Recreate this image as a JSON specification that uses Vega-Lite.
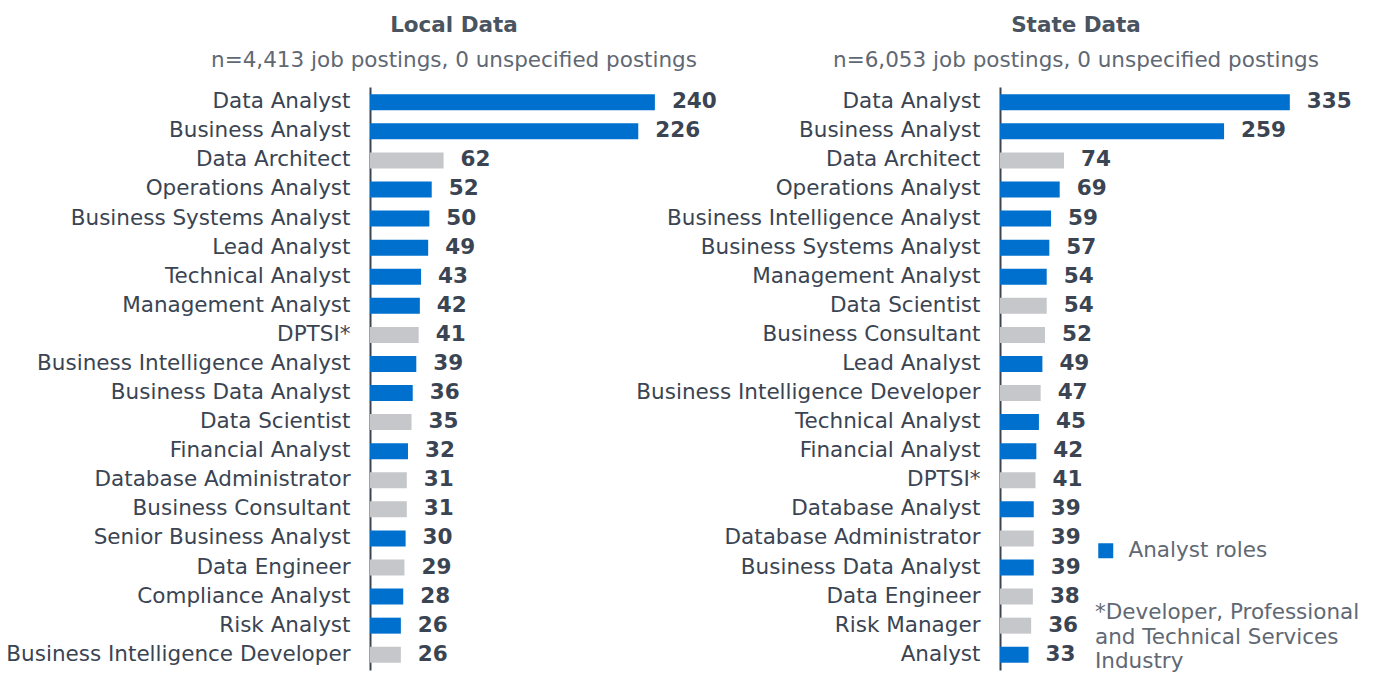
{
  "$schema": "https://vega.github.io/schema/vega-lite/v6.json",
  "background": "white",
  "padding": {"left": 5, "top": 15, "right": 5, "bottom": 5},
  "bounds": "flush",
  "spacing": 300,
  "resolve": {"scale": {"color": "independent"}, "legend": {"color": "independent"}},
  "config": {
    "font": "DejaVu Sans",
    "view": {"stroke": null},
    "axis": {"labelFont": "DejaVu Sans"}
  },
  "datasets": {
    "local": [
      {"role": "Data Analyst", "count": 240, "type": "Analyst roles", "rank": 1},
      {"role": "Business Analyst", "count": 226, "type": "Analyst roles", "rank": 2},
      {"role": "Data Architect", "count": 62, "type": "Other", "rank": 3},
      {"role": "Operations Analyst", "count": 52, "type": "Analyst roles", "rank": 4},
      {"role": "Business Systems Analyst", "count": 50, "type": "Analyst roles", "rank": 5},
      {"role": "Lead Analyst", "count": 49, "type": "Analyst roles", "rank": 6},
      {"role": "Technical Analyst", "count": 43, "type": "Analyst roles", "rank": 7},
      {"role": "Management Analyst", "count": 42, "type": "Analyst roles", "rank": 8},
      {"role": "DPTSI*", "count": 41, "type": "Other", "rank": 9},
      {"role": "Business Intelligence Analyst", "count": 39, "type": "Analyst roles", "rank": 10},
      {"role": "Business Data Analyst", "count": 36, "type": "Analyst roles", "rank": 11},
      {"role": "Data Scientist", "count": 35, "type": "Other", "rank": 12},
      {"role": "Financial Analyst", "count": 32, "type": "Analyst roles", "rank": 13},
      {"role": "Database Administrator", "count": 31, "type": "Other", "rank": 14},
      {"role": "Business Consultant", "count": 31, "type": "Other", "rank": 15},
      {"role": "Senior Business Analyst", "count": 30, "type": "Analyst roles", "rank": 16},
      {"role": "Data Engineer", "count": 29, "type": "Other", "rank": 17},
      {"role": "Compliance Analyst", "count": 28, "type": "Analyst roles", "rank": 18},
      {"role": "Risk Analyst", "count": 26, "type": "Analyst roles", "rank": 19},
      {"role": "Business Intelligence Developer", "count": 26, "type": "Other", "rank": 20}
    ],
    "state": [
      {"role": "Data Analyst", "count": 335, "type": "Analyst roles", "rank": 1},
      {"role": "Business Analyst", "count": 259, "type": "Analyst roles", "rank": 2},
      {"role": "Data Architect", "count": 74, "type": "Other", "rank": 3},
      {"role": "Operations Analyst", "count": 69, "type": "Analyst roles", "rank": 4},
      {"role": "Business Intelligence Analyst", "count": 59, "type": "Analyst roles", "rank": 5},
      {"role": "Business Systems Analyst", "count": 57, "type": "Analyst roles", "rank": 6},
      {"role": "Management Analyst", "count": 54, "type": "Analyst roles", "rank": 7},
      {"role": "Data Scientist", "count": 54, "type": "Other", "rank": 8},
      {"role": "Business Consultant", "count": 52, "type": "Other", "rank": 9},
      {"role": "Lead Analyst", "count": 49, "type": "Analyst roles", "rank": 10},
      {"role": "Business Intelligence Developer", "count": 47, "type": "Other", "rank": 11},
      {"role": "Technical Analyst", "count": 45, "type": "Analyst roles", "rank": 12},
      {"role": "Financial Analyst", "count": 42, "type": "Analyst roles", "rank": 13},
      {"role": "DPTSI*", "count": 41, "type": "Other", "rank": 14},
      {"role": "Database Analyst", "count": 39, "type": "Analyst roles", "rank": 15},
      {"role": "Database Administrator", "count": 39, "type": "Other", "rank": 16},
      {"role": "Business Data Analyst", "count": 39, "type": "Analyst roles", "rank": 17},
      {"role": "Data Engineer", "count": 38, "type": "Other", "rank": 18},
      {"role": "Risk Manager", "count": 36, "type": "Other", "rank": 19},
      {"role": "Analyst", "count": 33, "type": "Analyst roles", "rank": 20}
    ]
  },
  "hconcat": [
    {
      "data": {"name": "local"},
      "width": 330,
      "height": 583,
      "title": {
        "text": "Local Data",
        "subtitle": "n=4,413 job postings, 0 unspecified postings",
        "anchor": "middle",
        "frame": "group",
        "dx": -81,
        "fontSize": 21.5,
        "fontWeight": "bold",
        "color": "#4a5360",
        "subtitleFontSize": 21.5,
        "subtitleColor": "#5f6873",
        "subtitlePadding": 13,
        "offset": 16
      },
      "encoding": {
        "y": {
          "field": "role",
          "type": "nominal",
          "sort": {"field": "rank", "order": "ascending"},
          "scale": {"paddingInner": 0.45, "paddingOuter": 0.25},
          "axis": {
            "title": null,
            "ticks": false,
            "domainColor": "#3a4452",
            "domainWidth": 2,
            "labelFontSize": 21.5,
            "labelColor": "#3a4452",
            "labelPadding": 20,
            "labelLimit": 500
          }
        },
        "x": {
          "field": "count",
          "type": "quantitative",
          "scale": {"domain": [0, 278], "nice": false},
          "axis": null
        }
      },
      "layer": [
        {
          "mark": {"type": "bar"},
          "encoding": {
            "color": {
              "field": "type",
              "type": "nominal",
              "scale": {"domain": ["Analyst roles", "Other"], "range": ["#0070CE", "#C5C7CA"]},
              "legend": null
            }
          }
        },
        {
          "mark": {"type": "text", "align": "left", "baseline": "middle", "dx": 17, "fontSize": 21.5, "fontWeight": "bold", "color": "#3a4452"},
          "encoding": {"text": {"field": "count", "type": "quantitative"}}
        }
      ]
    },
    {
      "data": {"name": "state"},
      "width": 340,
      "height": 583,
      "title": {
        "text": "State Data",
        "subtitle": "n=6,053 job postings, 0 unspecified postings",
        "anchor": "middle",
        "frame": "group",
        "dx": -94,
        "fontSize": 21.5,
        "fontWeight": "bold",
        "color": "#4a5360",
        "subtitleFontSize": 21.5,
        "subtitleColor": "#5f6873",
        "subtitlePadding": 13,
        "offset": 16
      },
      "encoding": {
        "y": {
          "field": "role",
          "type": "nominal",
          "sort": {"field": "rank", "order": "ascending"},
          "scale": {"paddingInner": 0.45, "paddingOuter": 0.25},
          "axis": {
            "title": null,
            "ticks": false,
            "domainColor": "#3a4452",
            "domainWidth": 2,
            "labelFontSize": 21.5,
            "labelColor": "#3a4452",
            "labelPadding": 20,
            "labelLimit": 500
          }
        },
        "x": {
          "field": "count",
          "type": "quantitative",
          "scale": {"domain": [0, 393], "nice": false},
          "axis": null
        }
      },
      "layer": [
        {
          "mark": {"type": "bar"},
          "encoding": {
            "color": {
              "field": "type",
              "type": "nominal",
              "scale": {"domain": ["Analyst roles", "Other"], "range": ["#0070CE", "#C5C7CA"]},
              "legend": {
                "orient": "none",
                "legendX": 95,
                "legendY": 453,
                "values": ["Analyst roles"],
                "symbolType": "square",
                "symbolSize": 225,
                "symbolStrokeWidth": 0,
                "labelFontSize": 21.5,
                "labelColor": "#5f6873",
                "labelOffset": 12,
                "title": ["*Developer, Professional", "and Technical Services", "Industry"],
                "titleOrient": "bottom",
                "titleFontSize": 21.5,
                "titleFontWeight": "normal",
                "titleColor": "#5f6873",
                "titleLineHeight": 24.5,
                "titlePadding": 41,
                "titleLimit": 500
              }
            }
          }
        },
        {
          "mark": {"type": "text", "align": "left", "baseline": "middle", "dx": 17, "fontSize": 21.5, "fontWeight": "bold", "color": "#3a4452"},
          "encoding": {"text": {"field": "count", "type": "quantitative"}}
        }
      ]
    }
  ]
}
